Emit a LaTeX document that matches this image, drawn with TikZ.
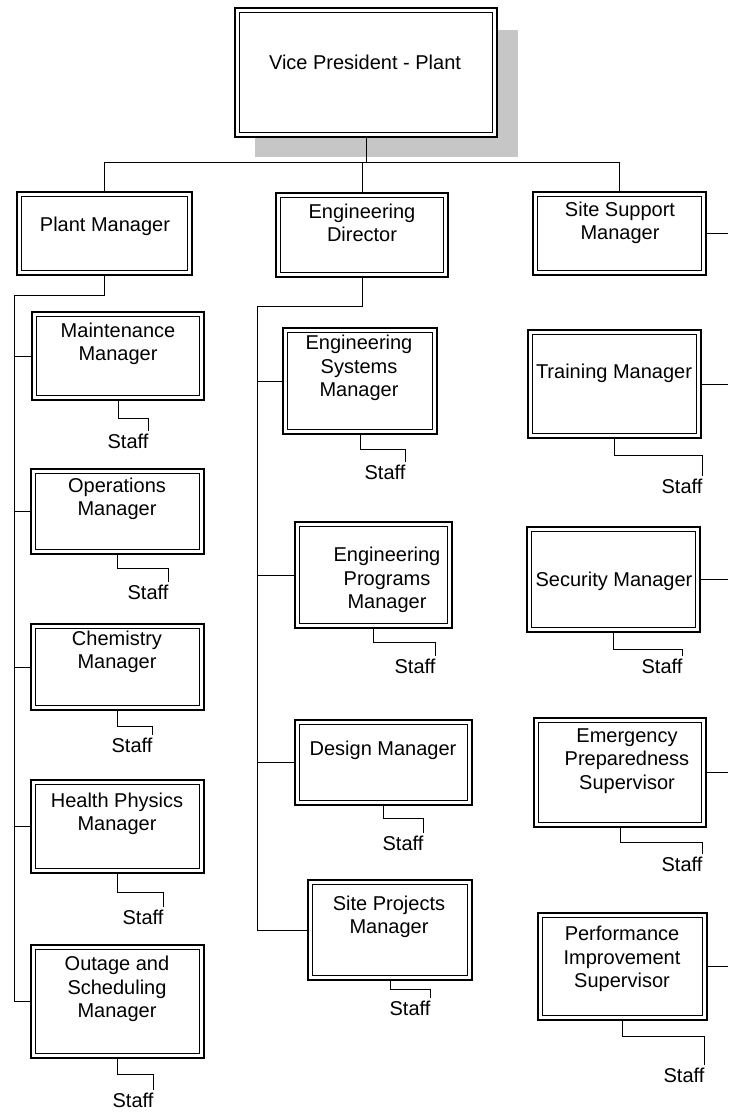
\documentclass[tikz,border=0pt]{standalone}
\usepackage{fontspec}
\setmainfont{Liberation Sans}
\usetikzlibrary{fit}
\begin{document}
\begin{tikzpicture}[x=0.75pt,y=-0.75pt,
  box/.style={draw, fill=white, line width=1.5pt, inner sep=0pt,
    path picture={\draw[line width=0.8pt]
      ([shift={(3.4pt,3.4pt)}]path picture bounding box.south west) rectangle
      ([shift={(-3.4pt,-3.4pt)}]path picture bounding box.north east);}},
  txt/.style={font=\fontsize{15}{17.5}\selectfont, align=center, inner sep=0pt},
  staff/.style={font=\fontsize{15}{17.5}\selectfont, inner xsep=0pt, inner ysep=1.5pt},
  conn/.style={line width=0.6pt}]
\useasboundingbox (0,0) rectangle (728,1112);
\fill[white] (0,0) rectangle (728,1112);
% shadow of top box
\fill[gray!45] (255,30) rectangle (518,157);
% boxes
\node[box, fit={(235,8) (497,137)}] (vp) {};
\node[txt] (vpT) at (365,62) {Vice President - Plant};
\node[box, fit={(17,192) (192,275)}] (pm) {};
\node[txt] (pmT) at (105,226) {Plant Manager};
\node[box, fit={(276,193) (448,277)}] (ed) {};
\node[txt] (edT) at (362,223) {Engineering\\Director};
\node[box, fit={(533,192) (706,275)}] (ssm) {};
\node[txt] (ssmT) at (620,223) {Site Support\\Manager};
% left column
\node[box, fit={(32,312) (204,400)}] (maint) {};
\node[txt] (maintT) at (118,344) {Maintenance\\Manager};
\node[box, fit={(31,469) (204,554)}] (ops) {};
\node[txt] (opsT) at (117,499) {Operations\\Manager};
\node[box, fit={(31,624) (204,710)}] (chem) {};
\node[txt] (chemT) at (117,652) {Chemistry\\Manager};
\node[box, fit={(31,780) (204,873)}] (hp) {};
\node[txt] (hpT) at (117,814) {Health Physics\\Manager};
\node[box, fit={(31,945) (204,1058)}] (outage) {};
\node[txt] (outageT) at (117,989) {Outage and\\Scheduling\\Manager};
% middle column
\node[box, fit={(283,328) (437,434)}] (esm) {};
\node[txt] (esmT) at (359,368) {Engineering\\Systems\\Manager};
\node[box, fit={(295,522) (452,628)}] (epm) {};
\node[txt] (epmT) at (387,580) {Engineering\\Programs\\Manager};
\node[box, fit={(295,720) (472,805)}] (design) {};
\node[txt] (designT) at (383,750) {Design Manager};
\node[box, fit={(308,880) (472,980)}] (sitepr) {};
\node[txt] (siteprT) at (389,917) {Site Projects\\Manager};
% right column
\node[box, fit={(528,330) (701,438)}] (train) {};
\node[txt] (trainT) at (614,373) {Training Manager};
\node[box, fit={(527,527) (700,632)}] (sec) {};
\node[txt] (secT) at (614,581) {Security Manager};
\node[box, fit={(534,718) (706,827)}] (eps) {};
\node[txt] (epsT) at (627,761) {Emergency\\Preparedness\\Supervisor};
\node[box, fit={(538,913) (707,1020)}] (pis) {};
\node[txt] (pisT) at (622,959) {Performance\\Improvement\\Supervisor};
% top bus
\coordinate (busL) at (105,162);
\draw[conn] (vp.south) -- (vp.south |- busL);
\draw[conn] (pm.north) |- (ssm.north |- busL) -- (ssm.north);
\draw[conn] (ed.north) -- (ed.north |- busL);
% left spine
\coordinate (lsp) at (14,295);
\draw[conn] (pm.south) |- (lsp) |- (outage.west);
\foreach \n in {maint,ops,chem,hp} \draw[conn] (\n.west) -- (\n.west -| lsp);
% middle spine
\coordinate (msp) at (257,306);
\draw[conn] (ed.south) |- (msp) |- (sitepr.west);
\foreach \n in {esm,epm,design} \draw[conn] (\n.west) -- (\n.west -| msp);
% right connectors to off-page spine
\coordinate (redge) at (728,0);
\foreach \n in {ssm,train,sec,eps,pis} \draw[conn] (\n.east) -- (\n.east -| redge);
% staff
\node[staff] (s1) at (128,441) {Staff};
\draw[conn] (maint.south) -- ++(0,17) -| (s1.north east);
\node[staff] (s2) at (148,592) {Staff};
\draw[conn] (ops.south) -- ++(0,13) -| (s2.north east);
\node[staff] (s3) at (132,745) {Staff};
\draw[conn] (chem.south) -- ++(0,15) -| (s3.north east);
\node[staff] (s4) at (143,917) {Staff};
\draw[conn] (hp.south) -- ++(0,18) -| (s4.north east);
\node[staff] (s5) at (133,1100) {Staff};
\draw[conn] (outage.south) -- ++(0,15) -| (s5.north east);
\node[staff] (s6) at (385,472) {Staff};
\draw[conn] (esm.south) -- ++(0,14) -| (s6.north east);
\node[staff] (s7) at (415,666) {Staff};
\draw[conn] (epm.south) -- ++(0,13) -| (s7.north east);
\node[staff] (s8) at (403,843) {Staff};
\draw[conn] (design.south) -- ++(0,12) -| (s8.north east);
\node[staff] (s9) at (410,1008) {Staff};
\draw[conn] (sitepr.south) -- ++(0,8) -| (s9.north east);
\node[staff] (s10) at (682,486) {Staff};
\draw[conn] (train.south) -- ++(0,16) -| (s10.north east);
\node[staff] (s11) at (662,666) {Staff};
\draw[conn] (sec.south) -- ++(0,16) -| (s11.north east);
\node[staff] (s12) at (682,864) {Staff};
\draw[conn] (eps.south) -- ++(0,14) -| (s12.north east);
\node[staff] (s13) at (684,1075) {Staff};
\draw[conn] (pis.south) -- ++(0,15) -| (s13.north east);
\end{tikzpicture}
\end{document}
